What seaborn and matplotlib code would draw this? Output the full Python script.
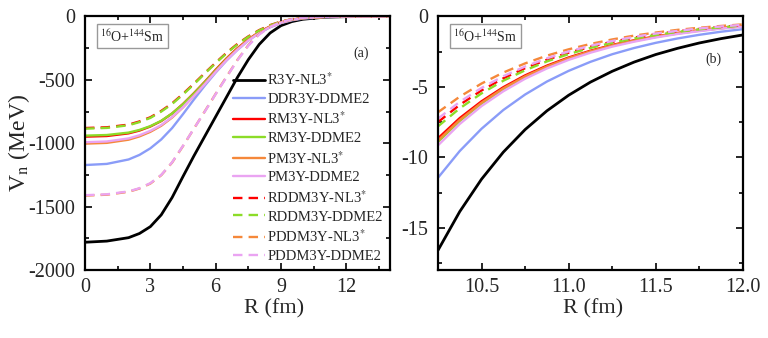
import numpy as np
import pandas as pd
import matplotlib
matplotlib.use("Agg")
import matplotlib.pyplot as plt
from matplotlib.ticker import MultipleLocator
import seaborn as sns

# panel (a): full range
R_A = [0, 1, 2, 2.5, 3, 3.5, 4, 4.5, 5, 5.5, 6, 6.5, 7, 7.5, 8, 8.5, 9, 9.5, 10, 11, 12, 13, 14]

VA_R3Y_NL3 = [-1781, -1772, -1745, -1712, -1658, -1565, -1428, -1262, -1100, -945, -790, -635, -480,
              -340, -220, -130, -72, -40, -22, -5.6, -1.3, -0.3, -0.1]
VA_DDR3Y_DDME2 = [-1172, -1163, -1128, -1092, -1040, -970, -880, -770, -655, -545, -442, -347, -263,
                  -190, -130, -85, -52, -30, -16.5, -3.8, -0.9, -0.2, -0.05]
VA_RM3Y_NL3 = [-948, -943, -922, -900, -868, -825, -765, -690, -605, -515, -420, -330, -250,
               -180, -122, -78, -46, -25, -12.5, -2.9, -0.68, -0.15, -0.03]
VA_RM3Y_DDME2 = [-940, -935, -916, -895, -865, -823, -765, -692, -608, -518, -425, -335, -255,
                 -184, -125, -80, -47.5, -26, -12.8, -3.0, -0.70, -0.15, -0.03]
VA_PM3Y_NL3 = [-1003, -997, -972, -946, -910, -862, -797, -716, -625, -530, -432, -338, -256,
               -184, -125, -80, -47, -25.5, -12.7, -2.96, -0.69, -0.15, -0.03]
VA_PM3Y_DDME2 = [-992, -986, -962, -937, -902, -856, -793, -715, -627, -534, -437, -344, -262,
                 -190, -130, -83, -49, -27, -13.2, -3.1, -0.72, -0.16, -0.03]
VA_RDDM3Y_NL3 = [-880, -874, -853, -828, -795, -745, -685, -610, -530, -446, -364, -286, -216,
                 -157, -107, -68, -40, -21.5, -10.8, -2.5, -0.62, -0.14, -0.03]
VA_RDDM3Y_DDME2 = [-885, -879, -858, -833, -800, -750, -690, -615, -535, -450, -368, -290, -220,
                   -160, -110, -70, -41, -22, -11.2, -2.6, -0.64, -0.14, -0.03]
VA_PDDM3Y_NL3 = [-1413, -1406, -1383, -1357, -1318, -1252, -1152, -1022, -885, -748, -610, -475, -342,
                 -226, -138, -79, -42, -21, -9.8, -2.3, -0.55, -0.12, -0.03]
VA_PDDM3Y_DDME2 = [-1410, -1403, -1380, -1355, -1315, -1250, -1150, -1020, -885, -750, -612, -478, -345,
                   -230, -142, -82, -44, -22, -10.5, -2.45, -0.58, -0.13, -0.03]

# panel (b): zoom on the tail
R_B = [10.25, 10.375, 10.5, 10.625, 10.75, 10.875, 11.0, 11.125, 11.25, 11.375, 11.5, 11.625, 11.75, 11.875, 12.0]

VB_R3Y_NL3 = [-16.6, -13.85, -11.55, -9.63, -8.03, -6.70, -5.59, -4.66, -3.89, -3.24, -2.70, -2.26, -1.88, -1.57, -1.31]
VB_DDR3Y_DDME2 = [-11.45, -9.55, -7.97, -6.64, -5.54, -4.62, -3.86, -3.22, -2.68, -2.24, -1.87, -1.56, -1.30, -1.08, -0.90]
VB_RM3Y_NL3 = [-8.65, -7.21, -6.02, -5.02, -4.18, -3.49, -2.91, -2.43, -2.02, -1.69, -1.41, -1.17, -0.98, -0.82, -0.68]
VB_RM3Y_DDME2 = [-8.9, -7.42, -6.19, -5.16, -4.30, -3.59, -2.99, -2.50, -2.08, -1.74, -1.45, -1.21, -1.01, -0.84, -0.70]
VB_PM3Y_NL3 = [-8.8, -7.34, -6.12, -5.10, -4.25, -3.55, -2.96, -2.47, -2.06, -1.72, -1.43, -1.19, -0.99, -0.83, -0.69]
VB_PM3Y_DDME2 = [-9.15, -7.63, -6.36, -5.31, -4.42, -3.69, -3.08, -2.57, -2.14, -1.79, -1.49, -1.24, -1.04, -0.86, -0.72]
VB_RDDM3Y_NL3 = [-7.5, -6.27, -5.25, -4.39, -3.67, -3.07, -2.57, -2.15, -1.80, -1.50, -1.26, -1.05, -0.88, -0.74, -0.62]
VB_RDDM3Y_DDME2 = [-7.8, -6.52, -5.46, -4.56, -3.82, -3.19, -2.67, -2.23, -1.87, -1.56, -1.31, -1.09, -0.91, -0.77, -0.64]
VB_PDDM3Y_NL3 = [-6.8, -5.69, -4.76, -3.98, -3.33, -2.78, -2.33, -1.95, -1.63, -1.36, -1.14, -0.95, -0.80, -0.67, -0.56]
VB_PDDM3Y_DDME2 = [-7.25, -6.06, -5.07, -4.24, -3.55, -2.97, -2.48, -2.08, -1.74, -1.45, -1.21, -1.02, -0.85, -0.71, -0.59]

LABELS = ["R3Y-NL3$^{*}$", "DDR3Y-DDME2", "RM3Y-NL3$^{*}$", "RM3Y-DDME2", "PM3Y-NL3$^{*}$",
          "PM3Y-DDME2", "RDDM3Y-NL3$^{*}$", "RDDM3Y-DDME2", "PDDM3Y-NL3$^{*}$", "PDDM3Y-DDME2"]
COLORS = ["black", "#8a9cf8", "#ff0000", "#8cdc28", "#f5883a", "#eaa4f2",
          "#ff0000", "#8cdc28", "#f5883a", "#eaa4f2"]
DASHED = [False] * 6 + [True] * 4

SERIES_A = [VA_R3Y_NL3, VA_DDR3Y_DDME2, VA_RM3Y_NL3, VA_RM3Y_DDME2, VA_PM3Y_NL3, VA_PM3Y_DDME2,
            VA_RDDM3Y_NL3, VA_RDDM3Y_DDME2, VA_PDDM3Y_NL3, VA_PDDM3Y_DDME2]
SERIES_B = [VB_R3Y_NL3, VB_DDR3Y_DDME2, VB_RM3Y_NL3, VB_RM3Y_DDME2, VB_PM3Y_NL3, VB_PM3Y_DDME2,
            VB_RDDM3Y_NL3, VB_RDDM3Y_DDME2, VB_PDDM3Y_NL3, VB_PDDM3Y_DDME2]

sns.set_style("ticks")
plt.rcParams['font.family'] = ['Liberation Serif', 'DejaVu Serif']
plt.rcParams['mathtext.fontset'] = 'stix'
plt.rcParams['axes.unicode_minus'] = False

fig = plt.figure(figsize=(7.68, 3.38), dpi=100)
ax1 = fig.add_axes([0.1107, 0.2012, 0.397, 0.75])
ax2 = fig.add_axes([0.5703, 0.2012, 0.397, 0.75])


def DrawPanel(ax, r, series, label):
    for i in range(len(series)):
        lw = 2.0 if i == 0 else 1.7
        ls = (0, (4, 2.6)) if DASHED[i] else "-"
        sns.lineplot(x=r, y=series[i], ax=ax, color=COLORS[i], linewidth=lw, linestyle=ls,
                     label=LABELS[i] if label else None, legend=False)


DrawPanel(ax1, R_A, SERIES_A, True)
DrawPanel(ax2, R_B, SERIES_B, False)

ax1.set_xlim(0, 14)
ax1.set_ylim(-2000, 0)
ax1.xaxis.set_major_locator(MultipleLocator(3))
ax1.xaxis.set_minor_locator(MultipleLocator(1.5))
ax1.yaxis.set_major_locator(MultipleLocator(500))
ax1.yaxis.set_minor_locator(MultipleLocator(250))

ax2.set_xlim(10.25, 12.0)
ax2.set_ylim(-18, 0)
ax2.xaxis.set_major_locator(MultipleLocator(0.5))
ax2.xaxis.set_minor_locator(MultipleLocator(0.25))
ax2.xaxis.set_major_formatter(plt.FormatStrFormatter("%.1f"))
ax2.yaxis.set_major_locator(MultipleLocator(5))
ax2.yaxis.set_minor_locator(MultipleLocator(2.5))

for ax in (ax1, ax2):
    for s in ax.spines.values():
        s.set_linewidth(1.6)
        s.set_color("black")
    ax.tick_params(which="both", direction="in", top=True, right=True, width=1.4, labelsize=14.5)
    ax.tick_params(axis="x", pad=6)
    ax.tick_params(axis="y", pad=7)
    ax.tick_params(which="major", length=5)
    ax.tick_params(which="minor", length=3)
    ax.set_xlabel("R (fm)", fontsize=16, labelpad=3)
    ax.set_ylabel("")
    ax.text(0.05, 0.955, r"$^{16}$O+$^{144}$Sm", transform=ax.transAxes, fontsize=10,
            ha="left", va="top", bbox=dict(boxstyle="square,pad=0.25", fc="white", ec="#999999", lw=1))

ax1.xaxis.set_label_coords(0.62, -0.115)
ax2.xaxis.set_label_coords(0.51, -0.115)
ax1.set_ylabel(r"V$_\mathrm{n}$ (MeV)", fontsize=17)
ax1.yaxis.set_label_coords(-0.175, 0.5)
ax1.text(0.905, 0.855, "(a)", transform=ax1.transAxes, fontsize=10, ha="center", va="center")
ax2.text(0.905, 0.83, "(b)", transform=ax2.transAxes, fontsize=10, ha="center", va="center")

ax1.legend(loc="lower right", bbox_to_anchor=(1.0, 0.0), frameon=False, fontsize=10.5,
           handlelength=2.2, handletextpad=0.15, labelspacing=0.32, borderaxespad=0.2, borderpad=0.3)

fig.savefig("out.png", dpi=100)
